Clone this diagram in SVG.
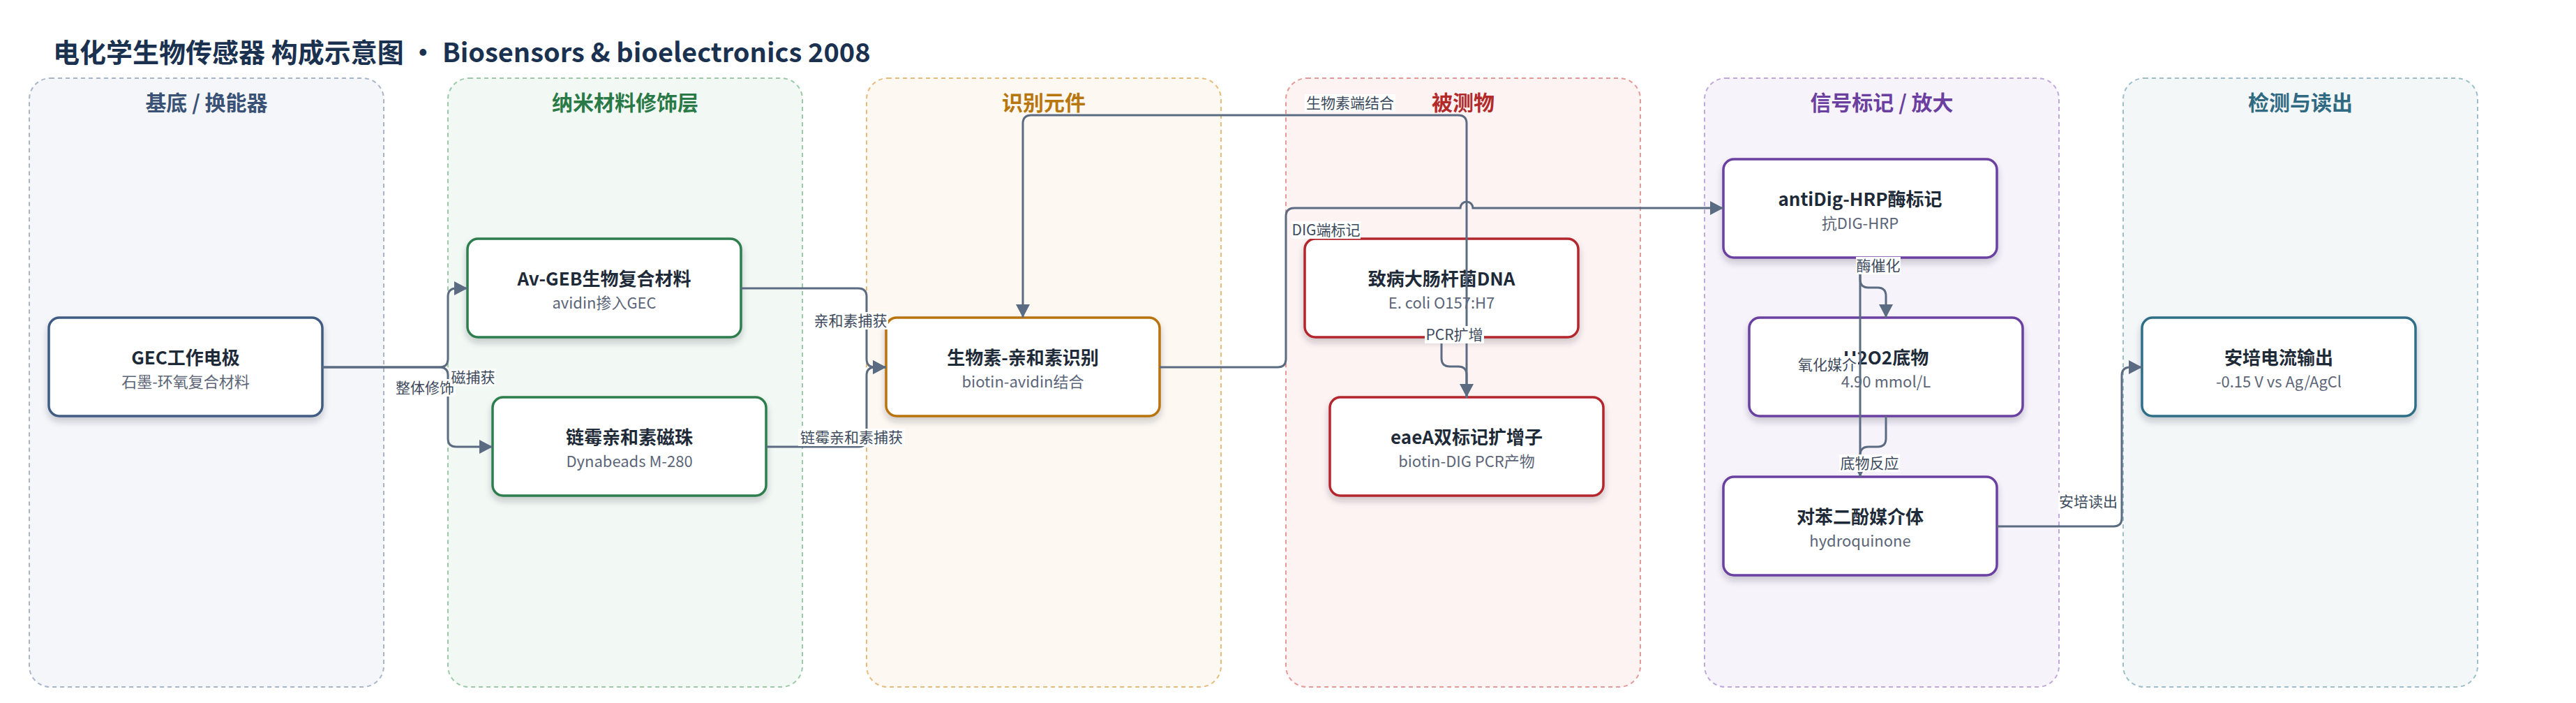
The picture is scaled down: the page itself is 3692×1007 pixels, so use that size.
<svg xmlns="http://www.w3.org/2000/svg" width="3692" height="1007" viewBox="0 0 3692 1007">
<defs>
<style>
text{font-family:"Noto Sans CJK SC","Noto Sans",sans-serif}
.title{font-size:38px;font-weight:700;fill:#1b3150}
.lane{stroke-width:2;stroke-dasharray:6 5}
.lh{font-size:30px;font-weight:700;text-anchor:middle}
.node{fill:#fff;stroke-width:3.5;filter:url(#sh)}
.nt{font-size:26px;font-weight:700;fill:#1e2a38;text-anchor:middle}
.ns{font-size:22px;fill:#5b6577;text-anchor:middle}
.edge{fill:none;stroke:#5b6b82;stroke-width:3;marker-end:url(#arr)}
.lbg{fill:#fff}
.lt{font-size:21px;fill:#3d4a5c;text-anchor:middle}
</style>
<filter id="sh" x="-10%" y="-10%" width="120%" height="140%">
<feDropShadow dx="0" dy="6" stdDeviation="5" flood-color="#1e2a38" flood-opacity="0.22"/>
</filter>
<marker id="arr" viewBox="0 0 20 20" refX="19" refY="10" markerWidth="20" markerHeight="20" markerUnits="userSpaceOnUse" orient="auto">
<path d="M0,0 L19,10 L0,20 z" fill="#5b6b82"/>
</marker>
</defs>
<rect width="3692" height="1007" fill="#fff"/>
<text class="title" x="76" y="89">电化学生物传感器 构成示意图 • Biosensors &amp; bioelectronics 2008</text>

<g id="lanes">
<g id="lane-substrate"><rect class="lane" x="42" y="112" width="508" height="872" rx="30" fill="#f5f6fa" stroke="#a8b6ca"/><text class="lh" x="296" y="158" fill="#3a5275">基底 / 换能器</text></g>
<g id="lane-nano"><rect class="lane" x="642" y="112" width="508" height="872" rx="30" fill="#f2f8f4" stroke="#9ccaa8"/><text class="lh" x="896" y="158" fill="#2a7a48">纳米材料修饰层</text></g>
<g id="lane-recog"><rect class="lane" x="1242" y="112" width="508" height="872" rx="30" fill="#fdf8f1" stroke="#e6bc7c"/><text class="lh" x="1496" y="158" fill="#b8770e">识别元件</text></g>
<g id="lane-analyte"><rect class="lane" x="1843" y="112" width="508" height="872" rx="30" fill="#fdf3f2" stroke="#e59a98"/><text class="lh" x="2097" y="158" fill="#b32a2a">被测物</text></g>
<g id="lane-signal"><rect class="lane" x="2443" y="112" width="508" height="872" rx="30" fill="#f7f3fb" stroke="#c0a8dc"/><text class="lh" x="2697" y="158" fill="#6b3fa0">信号标记 / 放大</text></g>
<g id="lane-readout"><rect class="lane" x="3043" y="112" width="508" height="872" rx="30" fill="#f3f7f8" stroke="#9dbfcb"/><text class="lh" x="3297" y="158" fill="#2f6a82">检测与读出</text></g>
</g>

<g id="n-gec"><rect class="node" x="70" y="455" width="392" height="141" rx="15" stroke="#3f5b82"/><text class="nt" x="266" y="522">GEC工作电极</text><text class="ns" x="266" y="555">石墨-环氧复合材料</text></g>
<g id="n-avgeb"><rect class="node" x="670" y="342" width="392" height="141" rx="15" stroke="#2e7d4e"/><text class="nt" x="866" y="409">Av-GEB生物复合材料</text><text class="ns" x="866" y="442">avidin掺入GEC</text></g>
<g id="n-beads"><rect class="node" x="706" y="569" width="392" height="141" rx="15" stroke="#2e7d4e"/><text class="nt" x="902" y="636">链霉亲和素磁珠</text><text class="ns" x="902" y="669">Dynabeads M-280</text></g>
<g id="n-recog"><rect class="node" x="1270" y="455" width="392" height="141" rx="15" stroke="#b8730c"/><text class="nt" x="1466" y="522">生物素-亲和素识别</text><text class="ns" x="1466" y="555">biotin-avidin结合</text></g>
<g id="n-dna"><rect class="node" x="1870" y="342" width="392" height="141" rx="15" stroke="#b3282d"/><text class="nt" x="2066" y="409">致病大肠杆菌DNA</text><text class="ns" x="2066" y="442">E. coli O157:H7</text></g>
<g id="n-eaea"><rect class="node" x="1906" y="569" width="392" height="141" rx="15" stroke="#b3282d"/><text class="nt" x="2102" y="636">eaeA双标记扩增子</text><text class="ns" x="2102" y="669">biotin-DIG PCR产物</text></g>
<g id="n-hrp"><rect class="node" x="2470" y="228" width="392" height="141" rx="15" stroke="#6a3fa0"/><text class="nt" x="2666" y="295">antiDig-HRP酶标记</text><text class="ns" x="2666" y="328">抗DIG-HRP</text></g>
<g id="n-h2o2"><rect class="node" x="2507" y="455" width="392" height="141" rx="15" stroke="#6a3fa0"/><text class="nt" x="2703" y="522">H2O2底物</text><text class="ns" x="2703" y="555">4.90 mmol/L</text></g>
<g id="n-hq"><rect class="node" x="2470" y="683" width="392" height="141" rx="15" stroke="#6a3fa0"/><text class="nt" x="2666" y="750">对苯二酚媒介体</text><text class="ns" x="2666" y="783">hydroquinone</text></g>
<g id="n-amp"><rect class="node" x="3070" y="455" width="392" height="141" rx="15" stroke="#2f6e86"/><text class="nt" x="3266" y="522">安培电流输出</text><text class="ns" x="3266" y="555">-0.15 V vs Ag/AgCl</text></g>

<g id="connectors">
<path class="edge" d="M462,526 H630 Q642,526 642,514 V425 Q642,413 654,413 H670"/>
<path class="edge" d="M462,526 H630 Q642,526 642,538 V628 Q642,640 654,640 H706"/>
<path class="edge" d="M1062,413 H1230 Q1242,413 1242,425 V514 Q1242,526 1254,526 H1270"/>
<path class="edge" d="M1098,640 H1230 Q1242,640 1242,628 V538 Q1242,526 1254,526 H1270"/>
<path class="edge" d="M1662,526 H1831 Q1843,526 1843,514 V310 Q1843,298 1855,298 H2093 A9,9 0 0 1 2111,298 H2470"/>
<path class="edge" d="M2102,570 V177 Q2102,165 2090,165 H1478 Q1466,165 1466,177 V455"/>
<path class="edge" d="M2066,483 V513 Q2066,525 2078,525 H2090 Q2102,525 2102,537 V569"/>
<path class="edge" d="M2666,369 V400 Q2666,412 2678,412 H2691 Q2703,412 2703,424 V455"/>
<path class="edge" d="M2666,369 V683"/>
<path class="edge" d="M2703,596 V628 Q2703,640 2691,640 H2678 Q2666,640 2666,652 V683"/>
<path class="edge" d="M2862,754 H3029 Q3041,754 3041,742 V538 Q3041,526 3053,526 H3070"/>
<g id="edge-labels">
<rect class="lbg" x="565" y="543" width="88" height="25"/><text class="lt" x="609" y="563">整体修饰</text>
<rect class="lbg" x="645" y="528" width="66" height="25"/><text class="lt" x="678" y="548">磁捕获</text>
<rect class="lbg" x="1165" y="447" width="108" height="25"/><text class="lt" x="1219" y="467">亲和素捕获</text>
<rect class="lbg" x="1144" y="614" width="153" height="25"/><text class="lt" x="1220.5" y="634">链霉亲和素捕获</text>
<rect class="lbg" x="1870" y="135" width="130" height="25"/><text class="lt" x="1935" y="155">生物素端结合</text>
<rect class="lbg" x="1851" y="317" width="99" height="25"/><text class="lt" x="1900.5" y="337">DIG端标记</text>
<rect class="lbg" x="2042" y="467" width="85" height="25"/><text class="lt" x="2084.5" y="487">PCR扩增</text>
<rect class="lbg" x="2660" y="368" width="64" height="25"/><text class="lt" x="2692" y="388">酶催化</text>
<rect class="lbg" x="2575" y="510" width="88" height="25"/><text class="lt" x="2619" y="530">氧化媒介</text>
<rect class="lbg" x="2636" y="651" width="87" height="25"/><text class="lt" x="2679.5" y="671">底物反应</text>
<rect class="lbg" x="2950" y="706" width="86" height="25"/><text class="lt" x="2993" y="726">安培读出</text>
</g>
</g>
</svg>
